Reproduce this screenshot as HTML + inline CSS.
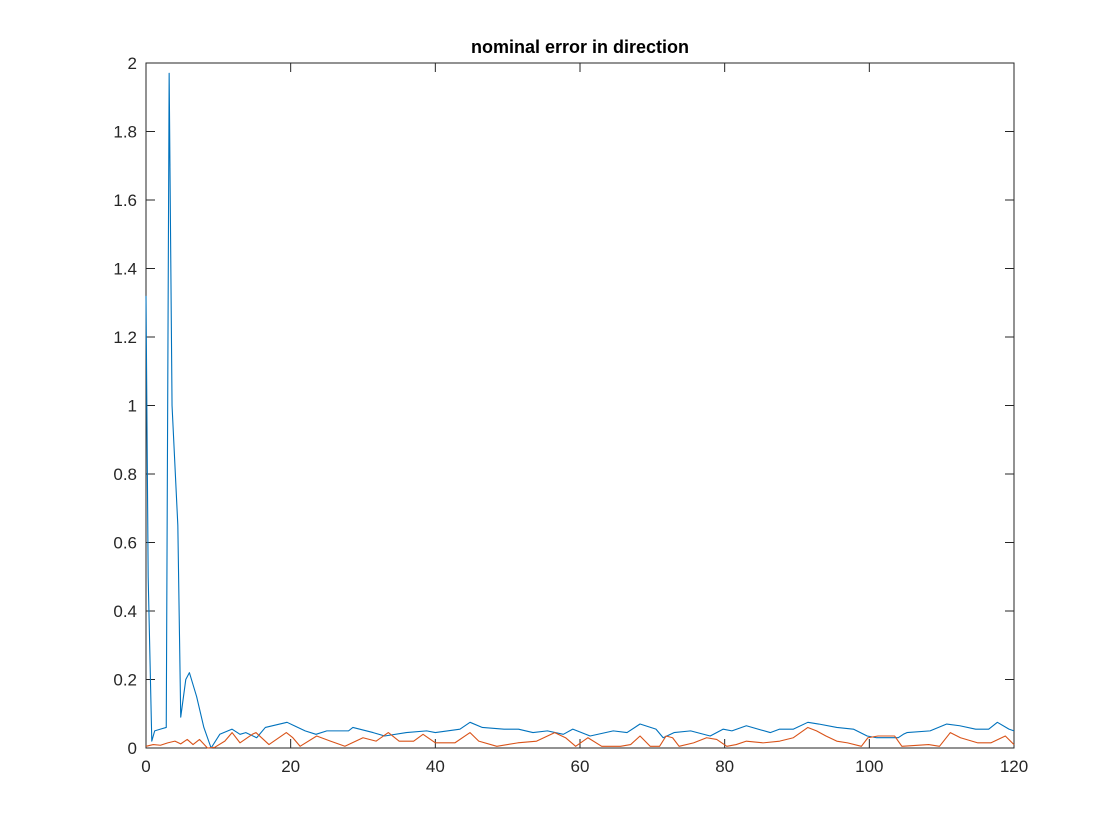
<!DOCTYPE html>
<html><head><meta charset="utf-8"><style>
body{margin:0;background:#fff;}
svg{display:block;font-family:"Liberation Sans",Arial,sans-serif;}
</style></head><body>
<svg id="chart" width="1120" height="840" viewBox="0 0 1120 840">
<rect x="0" y="0" width="1120" height="840" fill="#fff"/>
<text x="580" y="53" text-anchor="middle" font-size="18" font-weight="bold" fill="#000">nominal error in direction</text>
<g id="plot"></g>
</svg>
<script>
const blueX=[0,0.3,0.8,1.2,2,2.8,3.2,3.6,4.4,4.8,5.5,6,7,8,9,10.2,11.9,13,13.8,15.3,16.5,19.5,20.5,22,23.5,25,28,28.6,31.4,33,36,38.8,40,43.4,44.8,46.5,49.5,51.5,53.5,55.5,57.7,59,61.4,64.6,66.5,68.3,70.5,71.5,73,75.3,78,79.8,81,83,86.3,87.6,89.5,91.5,93,95.5,97.8,99.7,101,104,104.7,105.2,108.4,110.7,112.5,114.7,116.5,117.7,119.3,120];
const blueY=[1.32,0.5,0.02,0.05,0.055,0.06,1.97,1.0,0.65,0.09,0.2,0.22,0.15,0.06,0.0,0.04,0.055,0.04,0.045,0.03,0.06,0.075,0.065,0.05,0.04,0.05,0.05,0.06,0.045,0.035,0.045,0.05,0.045,0.055,0.075,0.06,0.055,0.055,0.045,0.05,0.04,0.055,0.035,0.05,0.045,0.07,0.055,0.03,0.045,0.05,0.035,0.055,0.05,0.065,0.045,0.055,0.055,0.075,0.07,0.06,0.055,0.035,0.03,0.03,0.04,0.045,0.05,0.07,0.065,0.055,0.055,0.075,0.055,0.05];
const orangeX=[0,1,2,3,4,4.8,5.7,6.5,7.4,8.5,9.5,10.9,11.9,13,14.7,15.2,17,19.4,20.3,21.3,23.6,25.5,27.5,30,31.8,33.5,35,37,38.3,40,42.7,44.8,46,48.5,51.4,54,56.5,58,59.4,61.1,63,65.6,67,68.3,69.7,71,71.9,72.8,73.7,75.7,77.5,78.9,80.3,81.6,83,85.3,87.6,89.5,91.5,92.7,94,95.5,97,98.9,99.8,101.2,103.5,104.5,108.2,109.7,111.2,112.6,115,116.8,118.8,120];
const orangeY=[0.005,0.01,0.008,0.015,0.02,0.012,0.025,0.01,0.025,0.0,0.002,0.02,0.045,0.015,0.04,0.045,0.01,0.045,0.03,0.005,0.035,0.02,0.005,0.03,0.02,0.045,0.02,0.02,0.04,0.015,0.015,0.045,0.02,0.005,0.015,0.02,0.045,0.03,0.005,0.03,0.005,0.005,0.01,0.035,0.005,0.005,0.035,0.03,0.005,0.015,0.03,0.025,0.005,0.01,0.02,0.015,0.02,0.03,0.06,0.05,0.035,0.02,0.015,0.005,0.03,0.035,0.035,0.005,0.01,0.005,0.045,0.03,0.015,0.015,0.035,0.01];
const xTicks=[0,20,40,60,80,100,120];
const yTicks=[0,0.2,0.4,0.6,0.8,1,1.2,1.4,1.6,1.8,2];
const yTickLabels=["0","0.2","0.4","0.6","0.8","1","1.2","1.4","1.6","1.8","2"];

const L=146,R=1014,T=63,B=748;
const sx=v=>L+(v-0)/(120-0)*(R-L);
const sy=v=>B-(v-0)/(2-0)*(B-T);
const NS="http://www.w3.org/2000/svg";
const g=document.getElementById('plot');
function mk(tag,attrs){const e=document.createElementNS(NS,tag);for(const k in attrs)e.setAttribute(k,attrs[k]);g.appendChild(e);return e;}

const frame=mk('rect',{x:L,y:T,width:R-L,height:B-T,fill:'none',stroke:'#262626','stroke-width':1});



xTicks.forEach(t=>{
  const x=sx(t);
  const a=mk('line',{x1:x,y1:B,x2:x,y2:B-9,stroke:'#262626','stroke-width':1});
  
  
  const b=mk('line',{x1:x,y1:T,x2:x,y2:T+9,stroke:'#262626','stroke-width':1});
  
  
  const tx=mk('text',{x:x,y:B+24,'text-anchor':'middle','font-size':17,fill:'#262626'});
  tx.textContent=String(t);
  
  
});
yTicks.forEach((t,i)=>{
  const y=sy(t);
  const a=mk('line',{x1:L,y1:y,x2:L+9,y2:y,stroke:'#262626','stroke-width':1});
  
  
  const b=mk('line',{x1:R,y1:y,x2:R-9,y2:y,stroke:'#262626','stroke-width':1});
  
  
  const tx=mk('text',{x:L-9,y:y+6,'text-anchor':'end','font-size':17,fill:'#262626'});
  tx.textContent=yTickLabels[i];
  
  
});

function series(xs,ys,color,name){
  const d=xs.map((x,i)=>(i?'L':'M')+sx(x).toFixed(2)+','+sy(ys[i]).toFixed(2)).join(' ');
  const p=mk('path',{d:d,fill:'none',stroke:color,'stroke-width':1.1,'stroke-linejoin':'round'});
  
  
}
series(blueX,blueY,'#0072BD','blue-error-line');
series(orangeX,orangeY,'#D95319','orange-error-line');
</script>
</body></html>
